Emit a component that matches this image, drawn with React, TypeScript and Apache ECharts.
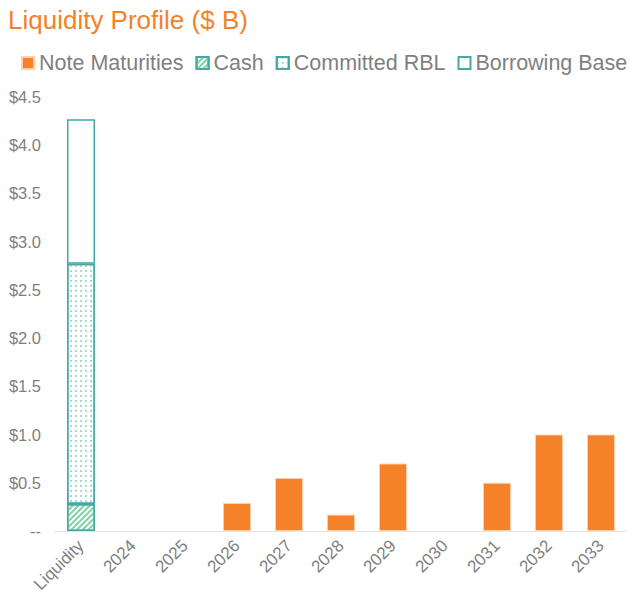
import React, { useEffect, useRef } from "react";
import * as echarts from "echarts";

const categories = ["Liquidity", "2024", "2025", "2026", "2027", "2028", "2029", "2030", "2031", "2032", "2033"];
const noteMaturities = [null, null, null, 0.29, 0.55, 0.17, 0.7, null, 0.5, 1.0, 1.0];
const cash = [0.28, null, null, null, null, null, null, null, null, null, null];
const committedRBL = [2.49, null, null, null, null, null, null, null, null, null, null];
const borrowingBase = [1.5, null, null, null, null, null, null, null, null, null, null];
const yTicks = [0, 0.5, 1.0, 1.5, 2.0, 2.5, 3.0, 3.5, 4.0, 4.5];

const ORANGE = "#F58129";
const TEAL = "#45A8A2";
const GREY = "#7F7F7F";
const FONT = "'Liberation Sans', Arial, sans-serif";

export default function App() {
  const ref = useRef<HTMLDivElement>(null);
  useEffect(() => {
    if (!ref.current) return;
    const chart = echarts.init(ref.current, null, { renderer: "svg" });
    chart.setOption({
      animation: false,
      backgroundColor: "#ffffff",
      textStyle: { fontFamily: FONT },
      title: {
        text: "Liquidity Profile ($ B)",
        left: 3,
        top: 2,
        textStyle: { color: ORANGE, fontSize: 26, fontWeight: "normal", fontFamily: FONT },
      },
      legend: {
        left: 16,
        top: 47,
        itemWidth: 12,
        itemHeight: 12,
        itemGap: 12,
        icon: "rect",
        textStyle: { color: GREY, fontSize: 21.5, fontFamily: FONT, padding: [0, 0, 0, 0] },
        data: ["Note Maturities", "Cash", "Committed RBL", "Borrowing Base"],
      },
      grid: { left: 55, right: 13, top: 97, bottom: 68, containLabel: false },
      xAxis: {
        type: "category",
        data: categories,
        axisLine: { show: true, lineStyle: { color: "#e3e3e3", width: 1 } },
        axisTick: { show: false },
        axisLabel: {
          rotate: 45,
          color: GREY,
          fontSize: 17,
          fontFamily: FONT,
          interval: 0,
          margin: 12,
        },
      },
      yAxis: {
        type: "value",
        min: 0,
        max: 4.5,
        interval: 0.5,
        splitLine: { show: false },
        axisLine: { show: false },
        axisTick: { show: false },
        axisLabel: {
          color: GREY,
          fontSize: 16.5,
          fontFamily: FONT,
          margin: 14,
          formatter: (v: number) => {
            if (!yTicks.some((t) => Math.abs(t - v) < 1e-9)) return "";
            return v === 0 ? "--" : "$" + v.toFixed(1);
          },
        },
      },
      series: [
        {
          name: "Note Maturities",
          type: "bar",
          stack: "total",
          barWidth: 28,
          data: noteMaturities,
          itemStyle: { color: ORANGE, borderColor: "#FCCFAE", borderWidth: 1 },
        },
        {
          name: "Cash",
          type: "bar",
          stack: "total",
          barWidth: 28,
          data: cash,
          itemStyle: {
            color: "#ffffff",
            borderColor: TEAL,
            borderWidth: 1.5,
            decal: {
              symbol: "rect",
              symbolSize: 1,
              color: "#7FD1A6",
              dashArrayX: [1, 0],
              dashArrayY: [2, 2],
              rotation: -Math.PI / 4,
            },
          },
        },
        {
          name: "Committed RBL",
          type: "bar",
          stack: "total",
          barWidth: 28,
          data: committedRBL,
          itemStyle: {
            color: "#ffffff",
            borderColor: TEAL,
            borderWidth: 1.5,
            decal: {
              symbol: "rect",
              symbolSize: 1,
              color: "#A6DCD8",
              dashArrayX: [1.2, 2.8],
              dashArrayY: [1.2, 2.8],
              rotation: 0,
            },
          },
        },
        {
          name: "Borrowing Base",
          type: "bar",
          stack: "total",
          barWidth: 28,
          data: borrowingBase,
          itemStyle: { color: "#ffffff", borderColor: TEAL, borderWidth: 1.5 },
        },
      ],
    });
    return () => chart.dispose();
  }, []);
  return <div ref={ref} style={{ width: 640, height: 599, position: "absolute", left: 0, top: 0 }} />;
}
